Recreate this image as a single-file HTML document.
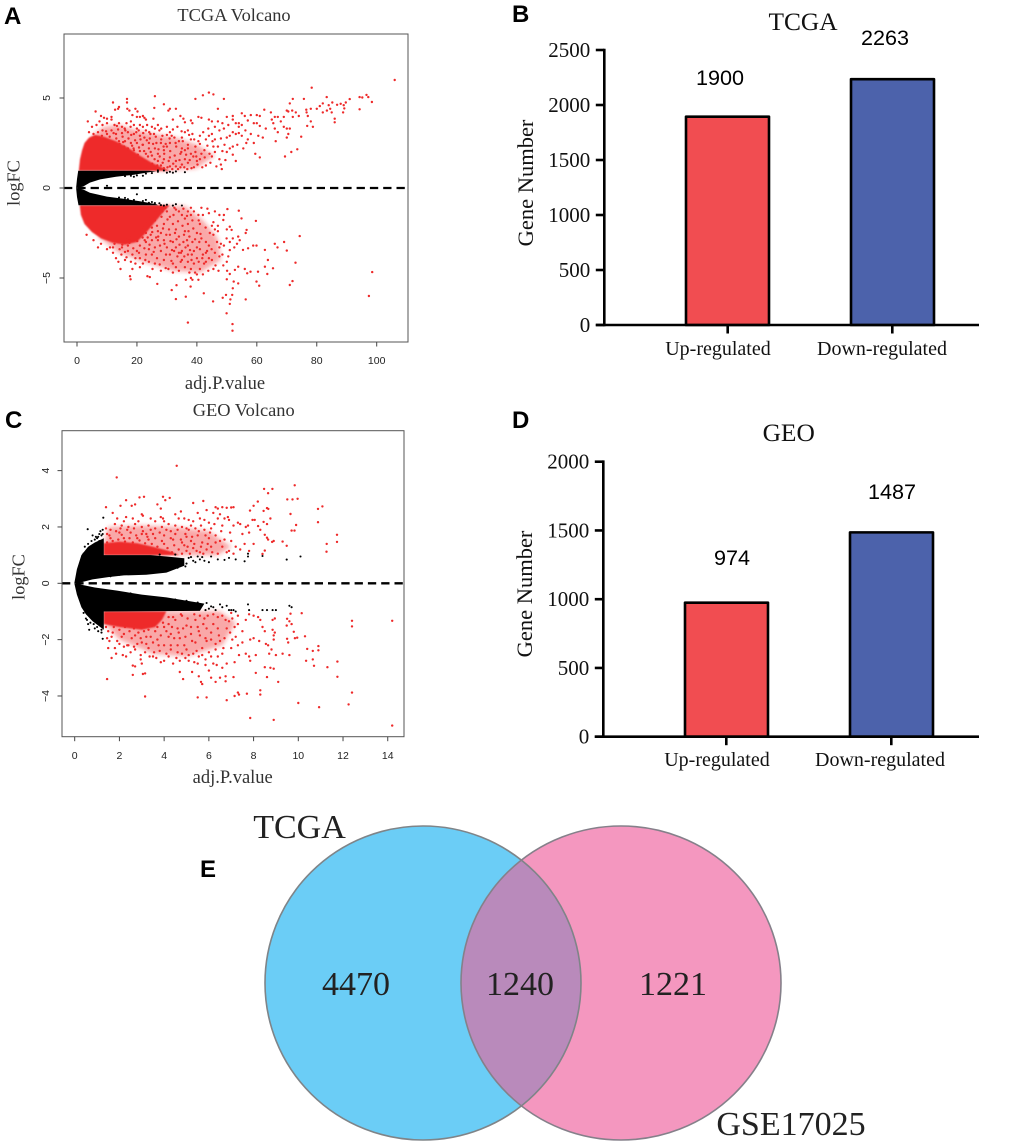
<!DOCTYPE html>
<html lang="en">
<head>
<meta charset="utf-8">
<title>TCGA and GEO differential expression figure</title>
<style>
html,body{margin:0;padding:0;background:#fff;}
svg{display:block;}
.serif{font-family:"Liberation Serif",serif;}
.sans{font-family:"Liberation Sans",sans-serif;}
.panel-letter{font-family:"Liberation Sans",sans-serif;font-weight:bold;font-size:24px;fill:#000;}
</style>
</head>
<body>
<svg id="fig" xmlns="http://www.w3.org/2000/svg" width="1020" height="1148" viewBox="0 0 1020 1148">
  <defs>
    <filter id="soft" x="-20%" y="-20%" width="140%" height="140%"><feGaussianBlur stdDeviation="2.2"/></filter>
    <filter id="edge" x="-10%" y="-10%" width="120%" height="120%"><feGaussianBlur stdDeviation="0.7"/></filter>
    <clipPath id="leftClip"><ellipse cx="423" cy="983" rx="158" ry="157"/></clipPath>
  </defs>
  <text class="panel-letter" x="4" y="24">A</text>
  <text class="panel-letter" x="512" y="22">B</text>
  <text class="panel-letter" x="5" y="428">C</text>
  <text class="panel-letter" x="512" y="428">D</text>
  <text class="panel-letter" x="200" y="877">E</text>

  <g id="panelA"></g>
  <g id="panelC"></g>
  <g id="panelB"></g>
  <g id="panelD"></g>

  <g id="panelE">
    <ellipse cx="423" cy="983" rx="158" ry="157" fill="#6bcdf6"/>
    <ellipse cx="621" cy="983" rx="160" ry="157" fill="#f497bf"/>
    <ellipse cx="621" cy="983" rx="160" ry="157" fill="#b98abb" clip-path="url(#leftClip)"/>
    <ellipse cx="423" cy="983" rx="158" ry="157" fill="none" stroke="#7f8488" stroke-width="1.6"/>
    <ellipse cx="621" cy="983" rx="160" ry="157" fill="none" stroke="#85808a" stroke-width="1.6"/>
    <text class="serif" x="299.5" y="838" font-size="34" text-anchor="middle" fill="#222">TCGA</text>
    <text class="serif" x="791" y="1135" font-size="34" text-anchor="middle" fill="#222">GSE17025</text>
    <text class="serif" x="356" y="995" font-size="34" text-anchor="middle" fill="#222">4470</text>
    <text class="serif" x="520" y="995" font-size="34" text-anchor="middle" fill="#222">1240</text>
    <text class="serif" x="673" y="995" font-size="34" text-anchor="middle" fill="#222">1221</text>
  </g>
</svg>

<script>
/* ---------- Panel A: TCGA volcano (adj.P.value, logFC) ---------- */
const aXTicks = [0, 20, 40, 60, 80, 100];
const aYTicks = [-5, 0, 5];
const aBlackUpperArea = [[-0.3,0],[0,0.5],[0.4,0.96],[24,0.96],[26.5,0.93],[24,0.87],[19,0.74],[13,0.63],[7.7,0.48],[4.3,0.3],[2,0.08]];
const aBlackLowerArea = [[-0.3,0],[0,-0.5],[0.5,-0.96],[27,-0.96],[26.5,-0.9],[21,-0.74],[15.5,-0.6],[10,-0.48],[4.3,-0.26],[2,-0.08]];
const aRedUpperSolid = [[0.6,0.96],[1,1.6],[1.7,2.1],[2.5,2.5],[4,2.8],[6,2.95],[9,2.85],[13,2.6],[17,2.25],[21,1.8],[25,1.4],[29,1.1],[31,0.96]];
const aRedUpperHaze = [[5,2.9],[9,3.4],[14,3.5],[20,3.2],[26,3],[33,2.8],[40,2.4],[46,1.8],[40,1.1],[30,0.96],[12,1]];
const aRedLowerSolid = [[0.9,-0.96],[1.3,-1.5],[2.5,-2],[5,-2.45],[8,-2.8],[12,-3.05],[16,-3.15],[20,-3],[23,-2.5],[26,-1.9],[29,-1.3],[31,-0.96]];
const aRedLowerHaze = [[7,-2.7],[14,-3.6],[22,-4.1],[32,-4.6],[41,-4.7],[48,-4],[47,-2.8],[42,-1.8],[36,-1],[20,-1]];
const aRedPoints = [[106,6],[78.3,5.57],[96.6,5.17],[97.2,5.05],[94.3,5.05],[95.2,5.03],[98.4,4.78],[94.3,4.37],[91,4.94],[89.7,4.75],[89,4.6],[88,4.68],[86.8,4.62],[89.2,4.42],[88.8,4.2],[83.3,5.05],[85.2,4.75],[84,4.6],[82,4.7],[81,4.55],[80,4.4],[83.4,4.3],[84.5,4.4],[85,4.2],[86,3.85],[86,3.65],[82,4.2],[78,4.4],[76.5,4.35],[75.7,4.95],[76.6,4.2],[77,4],[78,3.7],[78.7,3.4],[76.8,3.45],[72,4.95],[71,4.7],[71.8,4.3],[70.5,4.25],[73,4.2],[74,4],[72,3.95],[70,4.3],[69,3.95],[67,3.95],[68,3.7],[66,3.95],[65,3.8],[65.5,3.6],[64.7,4.2],[62.5,4.35],[61,4],[60,4.05],[58,4.05],[57,3.75],[56,4],[55,4.15],[54,3.4],[52,3.8],[53,3.6],[54,3.6],[55,3.5],[56.2,3.2],[59,3.6],[60,3.6],[61,3.45],[63,3.3],[66,3.3],[66.3,2.6],[67,3.1],[69,3.4],[70,3.3],[71,3.3],[70.5,3],[70,2.8],[74.8,2.85],[73.5,2.15],[71.5,2],[69.4,1.75],[61,1.7],[59.5,1.9],[59,2.5],[60.5,2.9],[58,3],[62,2.8],[57,2.7],[56.5,2.5],[55,2.9],[53.5,2.4],[52,2.3],[51,2.2],[51,2.9],[50,2.8],[52,3.1],[53,3],[49,3.3],[48.5,3.6],[47.5,3.2],[46,3.4],[45,3],[44,2.9],[43,2.7],[46,2.7],[47,2.3],[46,2],[45,1.75],[47.5,1.6],[48,1.3],[53,1.5],[48.3,1.05],[42.5,2.1],[41.5,1.9],[41,1.6],[40,1.5],[40.5,2.6],[41,2.9],[38.5,3],[37,3.2],[38,2.7],[37,2.4],[36,2.1],[35,2.2],[34.5,1.9],[34,2.6],[32.5,2.8],[33.5,3.4],[36,3.1],[31,3.1],[30,3.4],[31,2.5],[30,2.3],[29,2.1],[28,2.5],[28.5,2.9],[27.5,3.2],[27,3.5],[26,3.3],[25,3.4],[24.5,3],[23,3.2],[22.5,2.8],[24,2.5],[26,2.2],[27,1.9],[29,1.6],[31,1.7],[33,1.5],[35,1.3],[37,1.4],[39,1.15],[36,1.6],[38,1.9],[39.5,2.3],[33,1.2],[31,1.2],[29,1.1],[6.2,4.25],[8,4],[9,3.9],[10,3.85],[11.5,3.95],[12,4.75],[12.7,4.35],[13.7,4.4],[14,4.5],[16.7,4.95],[16.7,4.75],[16.8,4.4],[17.5,4.3],[19.5,4.4],[20.2,4.25],[18.5,4.05],[20,3.95],[21,3.95],[22,4],[22.5,3.9],[23,3.8],[26,5.1],[25.8,4.45],[25.5,3.85],[29,4.65],[30.5,4.3],[31,4.4],[33,4.4],[32,3.8],[34.5,4],[35.5,3.85],[36,3.65],[38,3.75],[38.5,3.6],[39.5,4.95],[40.5,3.95],[41.5,3.9],[42,5.15],[44,5.3],[45.5,5.2],[49,4.95],[47,4.4],[47,3.7],[44,3.8],[45,3.7],[50,3.95],[52,4],[50.5,3.5],[3.6,3.7],[5,3.4],[6.5,3.5],[7.5,3.7],[8.5,3.5],[10,3.6],[11.5,3.8],[12.5,3.5],[14,3.6],[15,3.4],[16.5,3.6],[18,3.7],[19,3.5],[20,3.3],[21,3.5],[22,3.4],[4,3.1],[5.5,3],[7,3.1],[8.5,3.2],[10,3],[11.5,3.2],[13,3],[15,3.05],[17,3.1],[19,3],[21,2.9],[14,2.6],[16,2.6],[18,2.5],[20,2.5],[22,2.4],[24,2.2],[17,2.2],[19,2.1],[21,2.05],[23,1.9],[25,1.8],[27,1.5],[98.5,-4.67],[97.4,-6],[74.3,-2.67],[72.9,-4.15],[71.9,-5.17],[71,-5.39],[69.1,-3],[70,-3.48],[66,-3.1],[66.9,-3.3],[62.7,-3.44],[63.7,-4],[65.4,-4.46],[62.7,-4.37],[63.5,-4.78],[60.4,-4.65],[59.9,-5.2],[60.8,-5.43],[56,-4.5],[56.8,-4.74],[57.9,-4.65],[59.7,-1.83],[56.6,-2.33],[56.3,-2.5],[57.1,-3.35],[55.4,-3.44],[58.8,-3.2],[59.9,-3.2],[54,-1.26],[54.9,-1.69],[51,-2.15],[51.6,-2.33],[50.2,-1.17],[49,-1.5],[48.8,-1.78],[49.9,-2.8],[51,-3],[52,-2.8],[53.8,-2.7],[54.3,-2.9],[53.4,-3.1],[52.5,-3.3],[51,-3.45],[50,-4.1],[53.8,-4.37],[52.7,-4.55],[50.1,-4.6],[51,-4.78],[50,-5.07],[52.3,-5.2],[53.8,-5.3],[52,-5.57],[56.3,-6.19],[51.8,-5.94],[51.2,-6.19],[51,-6.44],[49.7,-5.94],[48.6,-6.1],[45.4,-6.3],[42.3,-5.85],[36.3,-6.04],[33,-6.17],[31.6,-5.67],[33.2,-5.4],[36.3,-5.1],[37.9,-5.48],[38.5,-5.1],[49.9,-6.96],[51.9,-7.56],[51.9,-7.93],[37,-7.48],[26.8,-5.33],[17.9,-5.07],[17.7,-4.9],[23.5,-4.9],[24.3,-4.95],[46,-2.3],[47,-2.4],[45.5,-2.6],[46.7,-3],[47.5,-3.3],[46,-3.6],[47.5,-3.8],[48.5,-3.7],[45,-4],[44,-3.9],[43,-4.1],[42,-3.7],[41,-3.4],[43,-3],[44,-3.2],[41.5,-2.8],[40,-2.5],[41,-2],[42,-1.5],[43.5,-1.15],[44,-1.4],[39,-1.3],[40.5,-1.5],[38,-1.5],[38.5,-1.8],[37,-2],[36,-1.7],[35,-1.5],[34,-1.3],[33,-1.2],[36,-2.4],[37.5,-2.7],[38.5,-3],[37,-3.2],[35.5,-3],[34,-2.7],[33,-2.3],[32,-2],[31,-1.6],[30,-1.3],[31,-2.6],[32,-3],[33,-3.3],[35,-3.5],[37,-3.7],[39,-3.5],[40,-3.9],[39,-4.2],[38,-4.5],[37,-4.1],[36,-4.4],[41,-4.5],[42,-4.8],[40,-4.8],[40.5,-5.1],[38,-5],[35,-4],[33.5,-3.8],[32,-4.2],[31,-3.7],[30,-3.3],[29,-2.9],[28,-2.5],[29,-2],[27,-2.9],[28,-3.5],[29,-4],[30.5,-4.5],[32,-4.7],[34,-4.6],[28,-4.6],[26,-4.2],[25,-3.7],[26,-3.3],[24,-3.4],[23,-3.7],[22,-4.2],[21,-3.9],[20,-3.5],[19.5,-4.2],[18.5,-4.5],[14.5,-4.5],[13,-3.9],[12,-3.6],[11,-3.3],[10,-3.4],[8,-3.1],[7,-3.3],[5.5,-2.9],[3.2,-2.6],[13.8,-4.1],[16,-4],[17,-3.5],[15,-3.3],[17,-3.2],[18.5,-3.7],[21,-3.2],[23,-3],[25,-2.9],[27,-2.4],[25,-2.2],[23,-2.5],[22,-2.2],[26,-1.8],[24,-1.7]];
const aRedUpperFill = [[8.3,2.9],[9.1,2.65],[9.7,3.15],[10.4,2.45],[10.9,2.85],[11.6,2.55],[12.2,3.05],[12.6,2.35],[13.1,2.75],[13.7,3.25],[14.2,2.45],[14.6,2.15],[15.2,2.85],[15.7,2.3],[16.1,3.2],[16.6,2.05],[17.2,2.75],[17.6,1.9],[18.1,2.95],[18.4,2.35],[19.1,1.75],[19.4,2.65],[19.8,3.1],[20.3,1.85],[20.7,2.25],[21.2,2.7],[21.6,1.6],[22.1,3.05],[22.4,2.05],[22.9,1.45],[23.3,2.65],[23.7,1.75],[24.1,3.1],[24.6,2],[25.1,1.35],[25.4,2.45],[25.9,1.6],[26.3,2.85],[26.8,1.25],[27.2,2.15],[27.6,1.75],[28.1,2.7],[28.6,1.4],[29.1,1.9],[29.6,2.45],[30.2,1.15],[30.6,1.5],[31.1,2.05],[31.6,2.9],[32.1,1.35],[32.6,1.8],[33.1,2.3],[33.7,1.05],[34.2,1.55],[34.8,2],[35.3,2.6],[35.8,1.15],[36.4,1.85],[37,2.2],[37.6,1.55],[38.2,1.1],[38.8,1.75],[39.5,2],[40.2,1.3],[41,2.45],[41.8,1.15],[42.6,1.7],[43.5,2.35],[44.5,1.4],[45.5,2.3],[43,1.25],[15.4,2.55],[18.9,2.2],[21.9,2.4],[24.3,2.75],[26.5,2.5],[28.9,2.3],[30.9,2.75],[32.9,2.5],[35,2.8],[13.3,3.45],[15.9,3.3],[17.9,3.4],[20.6,3.2],[23.4,3.5],[25.7,3],[28.1,3.3],[30,2.95],[32,3.25],[34.9,3.15],[37.4,2.95],[39.1,2.7],[42.1,3.1],[43.8,3.3],[45.2,2.6],[48,2.75],[49.2,2.4],[50,2],[48.5,2.05],[52,1.85],[54,3.05],[55.5,2.2],[46.5,1.2],[49.5,1.55],[44.2,1.9],[39.8,1.75],[23,1.2],[26,1.1],[28,1.25],[31.8,1.05],[34.5,1.15],[36.8,1.05]];
const aRedLowerFill = [[12.5,-3.1],[13.4,-2.95],[14.2,-3.4],[15.1,-3.15],[16,-3.55],[16.8,-2.85],[17.5,-3.05],[18.1,-2.65],[18.8,-3.35],[19.4,-2.45],[20.1,-2.95],[20.7,-3.6],[21.4,-2.3],[21.9,-2.75],[22.5,-3.35],[23,-1.95],[23.6,-2.75],[24.2,-3.15],[24.7,-1.5],[25.1,-2.45],[25.6,-3.55],[26.2,-1.25],[26.7,-2.1],[27.1,-2.7],[27.7,-3.2],[28.2,-1.6],[28.7,-2.25],[29.2,-3.1],[29.7,-3.7],[30.2,-1.75],[30.7,-2.3],[31.2,-2.95],[31.7,-3.45],[32.2,-1.5],[32.7,-2.5],[33.2,-2.85],[33.7,-1.85],[34.2,-3.15],[34.7,-3.6],[35.2,-2.1],[35.7,-2.6],[36.2,-3.3],[36.7,-1.55],[37.2,-2.4],[37.7,-3.45],[38.2,-4],[38.8,-2.25],[39.4,-2.85],[40,-3.3],[40.6,-1.8],[41.2,-2.55],[41.8,-3.9],[42.4,-4.2],[42.9,-2.2],[43.4,-3.5],[44.3,-2.5],[44.9,-3.4],[45.5,-1.9],[46.2,-4.3],[47,-2.1],[48,-3.1],[12,-3.3],[14.8,-3.7],[16.5,-3.85],[18,-4.1],[19.5,-3.9],[21,-4.4],[22.8,-4],[24,-4.1],[25.2,-4.5],[26.7,-3.9],[27.6,-4.25],[29.6,-4.45],[31.5,-4.05],[33,-4.4],[34.6,-4.1],[35.8,-3.8],[37.5,-4.7],[39.4,-4.7],[40.6,-4.1],[43.8,-4.6],[45.5,-4.5],[47.2,-4.6],[48.8,-4.3],[50.5,-3.8],[49,-3.2],[50,-2.3],[47.5,-1.5],[46,-1.3],[45,-2.1],[41.5,-1.1],[38,-1.1],[35.5,-1.15],[37,-1.3],[32.5,-1.1],[29.5,-1.1],[27.3,-1.2],[28.5,-1.3],[25.8,-1.6],[22.6,-2.9],[19.9,-2.8],[17.7,-2.9],[24.6,-2.6],[26.4,-2.75],[29.8,-2.6],[32.4,-3.5],[34,-3.6],[36.7,-2.9],[38.3,-3.7],[40.8,-3],[43,-3.6]];
const aBlackPoints = [[27,0.98],[29,0.97],[31,0.9],[32,0.85],[33,0.92],[36,0.88],[28,-0.95],[29,-0.98],[30,-0.93],[32,-0.98],[10,0.12],[20,-0.35],[19,0.62],[22,0.68],[24,-0.82],[26,-0.84],[20,0.7],[23,0.8],[25,0.83],[16,0.66],[18,0.68],[27,0.9],[30,0.85],[17,-0.62],[19,-0.66],[22,-0.72],[23,-0.66],[25,-0.78],[27.5,-0.85],[35,-0.97],[33,-0.9],[14,-0.53],[16,-0.55]];

/* ---------- Panel C: GEO volcano (adj.P.value, logFC) ---------- */
const cXTicks = [0, 2, 4, 6, 8, 10, 12, 14];
const cYTicks = [-4, -2, 0, 2, 4];
const cBlackUpperArea = [[-0.02,0],[0.1,0.5],[0.3,1],[0.6,1.3],[0.9,1.45],[1.3,1.6],[1.3,1],[3.4,1],[4.1,0.95],[4.9,0.89],[4.9,0.62],[4.1,0.38],[3.2,0.3],[2.2,0.28],[1.5,0.22],[0.8,0.14],[0.3,0.04]];
const cBlackLowerArea = [[-0.02,0],[0.1,-0.4],[0.3,-0.85],[0.5,-1.1],[0.8,-1.35],[1.3,-1.65],[1.3,-1],[5.6,-0.98],[5.8,-0.72],[4.1,-0.5],[3,-0.4],[1.9,-0.26],[0.9,-0.15],[0.3,-0.05]];
const cRedUpperSolid = [[1.3,1],[1.3,1.42],[2,1.48],[2.8,1.42],[3.5,1.3],[4.2,1.15],[4.7,1]];
const cRedUpperHaze = [[1.3,1.4],[1.5,2],[3,2.05],[4.5,2],[6,1.85],[7,1.3],[6.4,1],[1.3,1]];
const cRedLowerSolid = [[1.3,-1],[1.3,-1.45],[2,-1.55],[3,-1.65],[3.6,-1.55],[3.9,-1.3],[4.1,-1]];
const cRedLowerHaze = [[1.3,-1.4],[2,-2],[3.5,-2.5],[5,-2.6],[6.6,-2.2],[7.2,-1.4],[6.5,-1],[1.3,-1]];
const cRedPoints = [[4.56,4.17],[1.88,3.76],[9.84,3.48],[8.47,3.35],[8.84,3.35],[8.65,3.2],[9.51,2.98],[9.74,2.98],[9.97,3],[8.19,2.9],[8,2.75],[7.84,2.58],[11.08,2.73],[10.88,2.64],[9.65,2.46],[10.88,2.17],[9.9,2.07],[9.7,1.87],[9.83,1.87],[9.48,1.33],[11.73,1.72],[11.73,1.47],[11.27,1.4],[11.26,1.12],[9.3,1.48],[8.9,1.5],[8.83,1.47],[8.5,1.72],[8.6,1.62],[8.5,1.16],[8.4,1.04],[8.6,2.67],[8.45,2.57],[8.66,2.64],[8.75,2.3],[8.6,2.1],[8.45,2.18],[8.2,2.03],[8.05,2.25],[7.95,2.25],[7.75,2.05],[7.65,2],[7.8,1.8],[8.3,1.9],[8.65,1.55],[7.4,2.1],[7.3,2.15],[7,2.69],[7.1,2.7],[6.8,2.68],[6.6,2.7],[6.4,2.65],[6.3,2.7],[6.5,2.45],[6.7,2.3],[6.9,2.25],[6.85,2.35],[6.4,2.3],[6.2,2.5],[5.9,2.6],[5.75,2.92],[5.3,2.85],[3.1,3.07],[2.9,3.05],[2.3,2.95],[1.4,2.7],[1.7,2.5],[2.05,2.75],[2.55,2.75],[2.7,2.8],[3,2.45],[3.05,2.4],[2.6,2.3],[2.3,2.35],[3.7,2.8],[3.85,2.65],[3.95,3.07],[4.05,2.95],[4.25,3.03],[4.75,2.55],[4.5,2.45],[4.65,2.3],[3.85,2.35],[3.95,2.3],[5.1,2.25],[5.3,2.2],[5.6,2.3],[5.8,2.25],[6,2.15],[6.1,1.95],[5.4,1.95],[5.1,1.9],[4.8,2],[4.5,2.05],[4.2,2.1],[3.9,2],[3.6,1.95],[3.3,2.05],[3,2],[2.7,2.1],[2.4,2],[2.1,2.05],[1.8,2.1],[1.6,1.9],[1.45,1.75],[2,1.8],[2.5,1.8],[3,1.75],[3.5,1.75],[4,1.7],[4.5,1.75],[5,1.65],[5.5,1.7],[6,1.6],[6.3,1.7],[6.5,1.5],[6.6,1.3],[7,1.5],[7.2,1.3],[6.9,1.15],[7.6,1.4],[7.8,1.15],[8,1.4],[5.7,1.45],[5.2,1.5],[4.8,1.45],[4.4,1.55],[3.9,1.5],[1.6,1.6],[2.2,1.6],[2.8,1.6],[3.3,1.55],[5.9,1.2],[5.3,1.25],[5,1.15],[4.9,1.35],[5.6,1.1],[6.1,1.3],[10.15,-1.06],[9.65,-1.08],[9.5,-1.26],[9.6,-1.35],[9.48,-1.5],[9.7,-1.45],[9.8,-1.72],[9.5,-1.97],[9.55,-2.1],[9.85,-1.95],[9.95,-1.93],[10.3,-1.88],[10.4,-2.33],[10.65,-2.4],[10.9,-2.23],[10.9,-2.38],[10.35,-2.75],[10.65,-2.7],[10.7,-2.93],[11.3,-2.98],[11.75,-2.78],[11.75,-3.32],[12.4,-1.33],[12.4,-1.53],[14.2,-1.33],[12.4,-3.88],[12.25,-4.3],[10.93,-4.4],[10,-4.25],[14.2,-5.05],[8.9,-4.85],[7.85,-4.78],[8.3,-3.8],[8.3,-3.95],[7.7,-3.92],[7.3,-3.88],[7.35,-3.95],[7.15,-4],[6.8,-4.15],[5.9,-4.05],[5.5,-4.05],[3.15,-4.02],[1.45,-3.4],[2.6,-3.25],[3.05,-3.22],[3.15,-3.2],[2.6,-2.92],[2.7,-2.95],[3,-2.85],[4.85,-3.4],[4.7,-3.15],[5.25,-3.15],[5.55,-3.3],[5.65,-3.5],[5.7,-3.58],[6.1,-3.35],[6.3,-3.5],[6.5,-3.35],[6.75,-3.3],[6.75,-3.48],[7.1,-3.33],[7.85,-2.75],[8.1,-3.18],[8.6,-3.33],[9.1,-3.5],[8.5,-2.98],[8.75,-3],[8.9,-3.03],[9,-2.55],[9.3,-2.5],[9.6,-2.55],[8.8,-2.35],[8.7,-2.5],[8.55,-2.15],[8.65,-2.2],[8.25,-2.05],[8,-1.95],[7.85,-2],[7.65,-2.5],[7.8,-2.6],[8.1,-2.55],[8.9,-1.85],[8.9,-2],[8.85,-1.65],[8.95,-1.75],[8.85,-1.3],[8.95,-1.25],[8.4,-1.55],[8.5,-1.7],[8.3,-1.3],[8.2,-1.2],[8,-1.15],[7.8,-1.1],[7.65,-1.3],[7.5,-1.7],[7.3,-1.45],[7.05,-1.25],[6.9,-1.35],[6.75,-1.3],[6.7,-1.95],[6.5,-2.05],[6.3,-2.15],[7.05,-2],[7.2,-1.9],[7.3,-2.2],[7,-2.3],[6.6,-2.5],[6.4,-2.6],[6.2,-2.85],[6,-3.1],[5.85,-2.9],[6.8,-2.85],[7.15,-2.8],[5.5,-2.85],[5.35,-2.8],[5.1,-2.75],[4.7,-2.75],[4.4,-2.85],[3.85,-2.8],[3.5,-2.6],[3.55,-2.45],[2.95,-2.7],[2.95,-2.55],[2.3,-2.6],[2.15,-2.55],[1.65,-2.65],[1.5,-2.3],[1.8,-2.3],[2,-2.15],[2.4,-2.2],[2.65,-2.25],[2.7,-2.35],[3,-2.1],[3.3,-2.3],[3.8,-2.4],[4.1,-2.5],[4.3,-2.2],[4.6,-2.45],[4.9,-2.2],[5,-2.35],[5.4,-2.1],[5.7,-2.3],[5.9,-2.05],[6.1,-2],[5.6,-1.85],[5.2,-1.8],[4.7,-1.95],[4.2,-1.9],[3.7,-2],[3.2,-1.9],[2.7,-1.85],[2.2,-1.8],[1.7,-1.75],[1.45,-1.95],[5.9,-1.6],[6.2,-1.45],[6.4,-1.2],[5.8,-1.25],[5.4,-1.3],[5,-1.5],[4.6,-1.6],[4.2,-1.45],[4.8,-1.15],[4.4,-1.2],[5.5,-1.55]];
const cRedUpperFill = [[1.45,1.45],[1.55,1.7],[1.7,1.5],[1.85,1.85],[1.95,1.55],[2.1,1.72],[2.25,1.48],[2.35,1.9],[2.45,1.6],[2.6,1.45],[2.65,1.95],[2.75,1.7],[2.9,1.52],[3.05,1.85],[3.15,1.42],[3.25,1.65],[3.4,1.9],[3.45,1.4],[3.6,1.6],[3.7,1.3],[3.8,1.8],[3.85,1.15],[4,1.4],[4.1,1.9],[4.15,1.25],[4.3,1.6],[4.35,1.1],[4.45,1.35],[4.6,1.9],[4.65,1.2],[4.75,1.55],[4.8,1.05],[4.95,1.75],[5.05,1.3],[5.15,1.05],[5.25,1.65],[5.35,1.4],[5.45,1.15],[5.55,1.85],[5.65,1.3],[5.75,1.05],[5.85,1.7],[5.95,1.4],[6.05,1.8],[6.15,1.1],[6.3,1.45],[6.4,1.05],[6.55,1.85],[6.7,1.55],[6.8,1.1],[6.95,1.8],[7.1,1.05],[7.4,1.2],[7.5,1.75],[1.4,1.95],[1.9,2.3],[2.2,2.2],[2.85,2.2],[3.4,2.3],[3.6,2.2],[4,2.2],[4.9,2.3],[5.2,2.05],[5.5,2.5],[5.65,2.05],[6.25,2.1],[6.6,2.05],[7.1,2.05],[2.05,1.95],[3.2,1.75],[4.3,1.85],[5,1.95],[5.8,1.9]];
const cRedLowerFill = [[1.4,-1.55],[1.5,-1.7],[1.65,-1.9],[1.75,-1.55],[1.9,-2.05],[2,-1.65],[2.1,-1.9],[2.25,-1.55],[2.35,-2.2],[2.45,-1.7],[2.55,-1.95],[2.65,-1.6],[2.8,-2.15],[2.85,-1.75],[2.95,-1.95],[3.1,-1.7],[3.2,-2.15],[3.3,-1.65],[3.4,-1.9],[3.5,-2.1],[3.6,-1.7],[3.7,-1.55],[3.75,-2.2],[3.85,-1.85],[3.95,-1.4],[4,-2.2],[4.1,-1.7],[4.2,-1.2],[4.3,-2.35],[4.35,-1.55],[4.45,-1.95],[4.5,-1.3],[4.6,-2.2],[4.65,-1.75],[4.75,-1.1],[4.8,-2.5],[4.85,-1.6],[4.95,-1.9],[5.05,-1.25],[5.1,-2.55],[5.2,-1.55],[5.25,-2.05],[5.35,-1.1],[5.45,-2.4],[5.55,-1.7],[5.6,-1.15],[5.7,-2.55],[5.75,-1.45],[5.85,-1.95],[5.95,-1.15],[6,-2.45],[6.1,-1.75],[6.2,-1.1],[6.3,-2.35],[6.4,-1.6],[6.45,-1.85],[6.6,-1.15],[6.65,-2.3],[6.8,-1.6],[6.95,-1.75],[7,-1.05],[7.15,-1.55],[7.3,-1.15],[7.35,-2.55],[7.5,-2.1],[1.55,-2.05],[1.85,-2.5],[2.2,-2.25],[2.5,-2.45],[3.15,-2.45],[3.35,-2.6],[3.65,-2.65],[4,-2.75],[4.2,-2.6],[4.55,-2.65],[4.95,-2.65],[5.3,-2.5],[5.55,-2.6],[5.85,-2.7],[6.1,-2.6],[6.35,-2.9],[6.6,-3],[2,-1.45],[2.4,-1.45],[2.7,-1.5],[3.05,-1.5],[3.45,-1.5],[4,-1.55],[4.3,-1.8]];
const cBlackPoints = [[1.28,2.33],[0.58,1.92],[10.1,0.95],[9.48,0.84],[8.4,0.97],[7.75,0.95],[7.75,1.05],[7.2,0.85],[6.9,0.9],[7.6,0.78],[6.7,0.83],[6.4,0.85],[6.1,0.95],[5.8,0.8],[5.6,0.85],[5.5,0.95],[5.3,0.8],[5.1,0.9],[1,1.6],[0.8,1.7],[1.1,1.75],[1.25,1.9],[1.15,1.85],[0.9,1.55],[4.7,0.65],[4.3,0.55],[9.6,-0.8],[9.7,-0.85],[9,-0.95],[8.85,-0.95],[8.6,-0.95],[8.4,-0.95],[7.8,-0.95],[7.75,-0.75],[7.2,-1],[7,-0.95],[6.8,-0.8],[6.5,-0.75],[6.2,-0.85],[6,-0.9],[0.65,-1.65],[0.9,-1.6],[1.25,-1.97],[1.2,-1.65],[0.55,-1.3],[0.6,-1.45],[0.5,1.1],[0.6,1.4],[0.75,1.5],[0.95,1.65],[1.1,1.5],[1.05,1.65],[1.2,1.7],[1.25,1.75],[0.4,1.05],[0.45,1.3],[3.8,0.5],[3.5,0.4],[3,0.38],[2.5,0.33],[2,0.3],[1.6,0.25],[4.6,0.55],[5,0.7],[5.2,0.93],[5.4,0.75],[5.7,0.93],[6,0.75],[4.95,0.6],[4.5,1.02],[3.8,1.02],[0.4,-1.05],[0.5,-1.25],[0.7,-1.4],[0.85,-1.45],[1,-1.55],[1.15,-1.45],[1.2,-1.75],[1.05,-1.7],[2.5,-0.36],[3.5,-0.5],[4.5,-0.58],[5,-0.62],[5.5,-0.68],[5.9,-0.7],[6.1,-0.82],[6.3,-0.95],[5.85,-0.95],[6.6,-0.85],[6.9,-0.95],[7.1,-0.95]];

/* ---------- Panels B and D: bar charts ---------- */
const barCategories = ["Up-regulated", "Down-regulated"];
const bBarHeights = [1894, 2235];
const bPrinted = ["1900", "2263"];
const bTicks = [0, 500, 1000, 1500, 2000, 2500];
const dBarHeights = [975, 1486];
const dPrinted = ["974", "1487"];
const dTicks = [0, 500, 1000, 1500, 2000];

const SVGNS = "http://www.w3.org/2000/svg";
function mk(parent, tag, attrs, text) {
  const el = document.createElementNS(SVGNS, tag);
  for (const k in attrs) el.setAttribute(k, attrs[k]);
  if (text !== undefined) el.textContent = text;
  parent.appendChild(el);
  return el;
}

function drawVolcano(opts) {
  const g = document.getElementById(opts.id);
  const sx = v => opts.x0 + v * opts.xk;
  const sy = v => opts.y0 - v * opts.yk;
  const f = opts.frame;
  const toPts = a => a.map(p => sx(p[0]).toFixed(1) + "," + sy(p[1]).toFixed(1)).join(" ");

  opts.hazes.forEach(a => {
    const el = mk(g, "polygon", {points: toPts(a), fill: "#ef2b2b", "fill-opacity": 0.4, filter: "url(#soft)"});
    
    
  });
  opts.redAreas.forEach(a => {
    const el = mk(g, "polygon", {points: toPts(a), fill: "#ee2c2c", filter: "url(#edge)"});
    
    
  });
  opts.redPoints.forEach(p => {
    const el = mk(g, "circle", {cx: sx(p[0]).toFixed(1), cy: sy(p[1]).toFixed(1), r: 1.2, fill: "#ee2a2a"});
    
    
  });
  opts.blackAreas.forEach(a => {
    const el = mk(g, "polygon", {points: toPts(a), fill: "#000"});
    
    
  });
  opts.blackPoints.forEach(p => {
    const el = mk(g, "circle", {cx: sx(p[0]).toFixed(1), cy: sy(p[1]).toFixed(1), r: 1.05, fill: "#000"});
    
    
  });

  const dash = mk(g, "line", {x1: f.l, x2: f.r, y1: sy(0), y2: sy(0), stroke: "#000", "stroke-width": 2.3, "stroke-dasharray": "8.3 5"});
  
  

  const frame = mk(g, "rect", {x: f.l, y: f.t, width: f.r - f.l, height: f.b - f.t, fill: "none", stroke: "#555", "stroke-width": 1});
  
  

  opts.xTicks.forEach(t => {
    const m = mk(g, "line", {x1: sx(t), x2: sx(t), y1: f.b, y2: f.b + 4.5, stroke: "#444", "stroke-width": 1});
    
    
    const l = mk(g, "text", {x: sx(t), y: opts.xTickY, "text-anchor": "middle", "font-size": 10.5, fill: "#222", class: "sans"}, String(t));
    
    
  });
  opts.yTicks.forEach(t => {
    const m = mk(g, "line", {x1: f.l - 4.5, x2: f.l, y1: sy(t), y2: sy(t), stroke: "#444", "stroke-width": 1});
    
    
    const label = t < 0 ? "\u2212" + Math.abs(t) : String(t);
    const l = mk(g, "text", {transform: "translate(" + opts.yTickX + " " + sy(t) + ") rotate(-90)", "text-anchor": "middle", "font-size": 10.5, fill: "#222", class: "sans"}, label);
    
    
  });

  const title = mk(g, "text", {x: opts.titleX, y: opts.titleY, "text-anchor": "middle", "font-size": 18.4, fill: "#333", class: "serif"}, opts.title);
  
  
  const xl = mk(g, "text", {x: opts.xLabelX, y: opts.xLabelY, "text-anchor": "middle", "font-size": 18.5, fill: "#333", class: "serif"}, "adj.P.value");
  
  
  const yl = mk(g, "text", {transform: "translate(" + opts.yLabelX + " " + opts.yLabelY + ") rotate(-90)", "text-anchor": "middle", "font-size": 18.3, fill: "#333", class: "serif"}, "logFC");
  
  
}

function drawBars(opts) {
  const g = document.getElementById(opts.id);
  const sy = v => opts.y0 - v * opts.yk;
  const top = sy(opts.ticks[opts.ticks.length - 1]);

  opts.values.forEach((v, i) => {
    const x = opts.barX[i];
    const fill = i === 0 ? "#f14d51" : "#4c62ab";
    const r = mk(g, "rect", {x: x, y: sy(v), width: opts.barW, height: opts.y0 - sy(v), fill: fill, stroke: "#000", "stroke-width": 2.6, "stroke-linejoin": "round"});
    
    
    const p = mk(g, "text", {x: opts.printX[i], y: opts.printY[i], "text-anchor": "middle", "font-size": 21.6, fill: "#000", class: "sans"}, opts.printed[i]);
    
    
    const t = mk(g, "line", {x1: opts.tickX[i], x2: opts.tickX[i], y1: opts.y0, y2: opts.y0 + 8.5, stroke: "#000", "stroke-width": 2.6});
    
    
    const c = mk(g, "text", {x: opts.catX[i], y: opts.catY, "text-anchor": "middle", "font-size": 20, fill: "#111", class: "serif"}, barCategories[i]);
    
    
  });

  const ya = mk(g, "line", {x1: opts.axisX, x2: opts.axisX, y1: top - 1.3, y2: opts.y0 + 1.3, stroke: "#000", "stroke-width": 2.6});
  
  
  const xa = mk(g, "line", {x1: opts.axisX - 8.5, x2: opts.axisEnd, y1: opts.y0, y2: opts.y0, stroke: "#000", "stroke-width": 2.6});
  
  

  opts.ticks.forEach(t => {
    const m = mk(g, "line", {x1: opts.axisX - 8.5, x2: opts.axisX, y1: sy(t), y2: sy(t), stroke: "#000", "stroke-width": 2.6});
    
    
    const l = mk(g, "text", {x: opts.axisX - 14, y: sy(t) + 6.8, "text-anchor": "end", "font-size": 21, fill: "#111", class: "serif"}, String(t));
    
    
  });

  const title = mk(g, "text", {x: opts.titleX, y: opts.titleY, "text-anchor": "middle", "font-size": 25.4, fill: "#111", class: "serif"}, opts.title);
  
  
  const yl = mk(g, "text", {transform: "translate(" + opts.yLabelX + " " + opts.yLabelY + ") rotate(-90)", "text-anchor": "middle", "font-size": 22.5, fill: "#111", class: "serif"}, "Gene Number");
  
  
}

drawVolcano({
  id: "panelA", title: "TCGA Volcano",
  x0: 77, xk: 2.997, y0: 188, yk: 18,
  frame: {l: 64, r: 408, t: 34, b: 342},
  xTicks: aXTicks, yTicks: aYTicks,
  xTickY: 364, yTickX: 50,
  titleX: 234, titleY: 21, xLabelX: 225, xLabelY: 389, yLabelX: 19.5, yLabelY: 183,
  hazes: [aRedUpperHaze, aRedLowerHaze],
  redAreas: [aRedUpperSolid, aRedLowerSolid],
  blackAreas: [aBlackUpperArea, aBlackLowerArea],
  redPoints: aRedPoints.concat(aRedUpperFill, aRedLowerFill), blackPoints: aBlackPoints
});
drawVolcano({
  id: "panelC", title: "GEO Volcano",
  x0: 74.7, xk: 22.36, y0: 583.3, yk: 28.17,
  frame: {l: 62, r: 404, t: 430.7, b: 736.7},
  xTicks: cXTicks, yTicks: cYTicks,
  xTickY: 759, yTickX: 49,
  titleX: 243.7, titleY: 416, xLabelX: 232.7, xLabelY: 783, yLabelX: 24.5, yLabelY: 577,
  hazes: [cRedUpperHaze, cRedLowerHaze],
  redAreas: [cRedUpperSolid, cRedLowerSolid],
  blackAreas: [cBlackUpperArea, cBlackLowerArea],
  redPoints: cRedPoints.concat(cRedUpperFill, cRedLowerFill), blackPoints: cBlackPoints
});
drawBars({
  id: "panelB", title: "TCGA", titleX: 803, titleY: 30,
  y0: 325, yk: 0.11, axisX: 604.3, axisEnd: 979,
  ticks: bTicks, values: bBarHeights, printed: bPrinted,
  barX: [686, 851], barW: 83, tickX: [727.7, 892.3],
  printX: [720, 885], printY: [85, 45],
  catX: [718, 882], catY: 355,
  yLabelX: 533, yLabelY: 183
});
drawBars({
  id: "panelD", title: "GEO", titleX: 788.7, titleY: 441,
  y0: 736.7, yk: 0.1375, axisX: 603.3, axisEnd: 979,
  ticks: dTicks, values: dBarHeights, printed: dPrinted,
  barX: [685, 850], barW: 83, tickX: [726.3, 891.3],
  printX: [732, 892], printY: [565, 499],
  catX: [717, 880], catY: 766,
  yLabelX: 532, yLabelY: 594
});
</script>
</body>
</html>
